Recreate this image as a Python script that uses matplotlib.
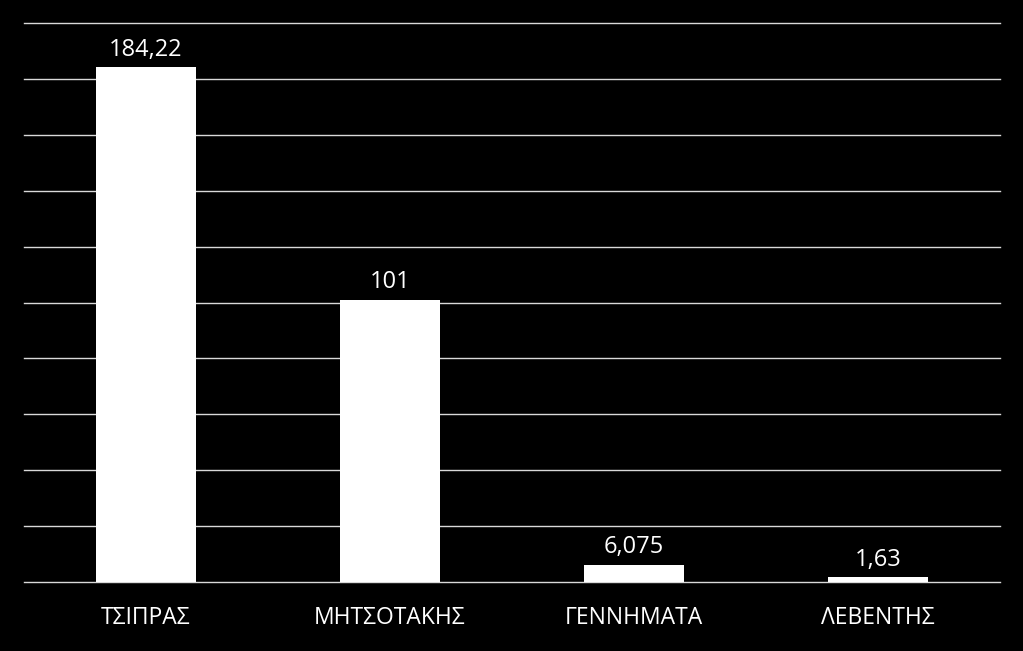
import matplotlib
matplotlib.use("Agg")
import matplotlib.pyplot as plt

categories = ["ΤΣΙΠΡΑΣ", "ΜΗΤΣΟΤΑΚΗΣ", "ΓΕΝΝΗΜΑΤΑ", "ΛΕΒΕΝΤΗΣ"]
values = [184.22, 101, 6.075, 1.63]
value_labels = ["184,22", "101", "6,075", "1,63"]
yticks = list(range(0, 201, 20))

plt.rcParams['font.family'] = ['Open Sans', 'DejaVu Sans']

W, H = 1023, 651
fig = plt.figure(figsize=(W/100, H/100), dpi=100, facecolor='black')
ax = fig.add_axes([24/W, 1-582/H, (1000-24)/W, (582-23)/H])
ax.set_facecolor('black')

x = list(range(len(categories)))
ax.bar(x, values, width=0.41, color='white', zorder=3)
ax.set_xlim(-0.5, len(categories)-0.5)
ax.set_ylim(0, 200)
ax.set_yticks(yticks)
ax.yaxis.grid(True, color='#d9d9d9', linewidth=1.0, zorder=0)
for gl in ax.get_ygridlines():
    gl.set_clip_on(False)
ax.tick_params(axis='y', left=False, labelleft=False)
ax.tick_params(axis='x', bottom=False, colors='white', labelsize=16.5, pad=14)
ax.set_xticks(x)
ax.set_xticklabels(categories, color='white')
for s in ax.spines.values():
    s.set_visible(False)

for xi, v, lab in zip(x, values, value_labels):
    ax.annotate(lab, (xi, v), xytext=(0, 4), textcoords='offset points',
                ha='center', va='bottom', color='white', fontsize=17)

fig.savefig('out.png', dpi=100, facecolor='black')
